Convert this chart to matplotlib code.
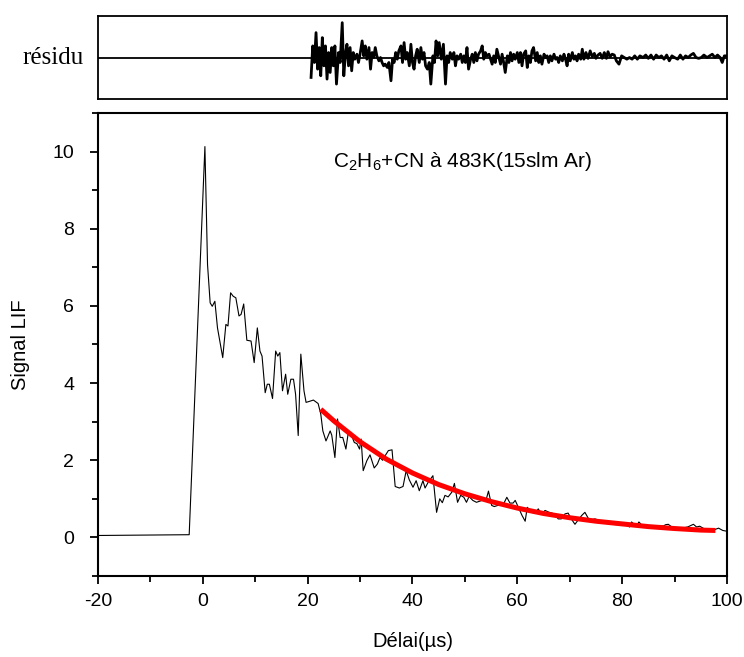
import matplotlib
matplotlib.use('Agg')
import matplotlib.pyplot as plt
from matplotlib.ticker import MultipleLocator

plt.rcParams['font.family'] = ['Liberation Sans', 'DejaVu Sans']
plt.rcParams['mathtext.fontset'] = 'custom'
plt.rcParams['mathtext.rm'] = 'Liberation Sans'
plt.rcParams['mathtext.default'] = 'regular'
plt.rcParams['axes.unicode_minus'] = False

# LIF signal
t_main = [-20, -2.6, 0.4, 0.9, 1.4, 1.8, 2.3, 2.8, 3.8, 4.4, 4.8, 5.3, 5.8, 6.3, 6.9, 7.3,
          7.8, 8.4, 9.2, 9.8, 10.4, 10.9, 11.3, 11.9, 12.3, 12.7, 13.3, 13.9, 14.3, 14.7,
          15.2, 15.8, 16.2, 16.8, 17.3, 17.7, 18.2, 18.7, 19.3, 19.7, 20.2, 21.1, 22.0,
          22.5, 22.9, 23.5, 24.3, 24.6, 25.2, 25.7, 26.2, 26.7, 27.3, 27.8, 28.3, 28.9,
          29.4, 29.9, 30.2, 30.6, 31.3, 31.9, 32.7, 33.3, 33.8, 34.3, 34.8, 35.4, 36.1,
          36.7, 37.5, 38.2, 38.8, 39.4, 40.1, 40.7, 41.3, 42.0, 42.4, 43.0, 43.9, 44.6,
          45.2, 45.7, 46.2, 46.8, 47.5, 48.0, 48.6, 49.2, 49.8, 50.3, 50.8, 51.5, 52.2,
          53.3, 54.0, 54.5, 55.1, 55.6, 56.3, 57.0, 57.5, 58.0, 58.6, 59.2, 59.6, 60.2,
          60.9, 61.5, 61.9, 62.8, 63.4, 64.0, 64.6, 65.3, 65.9, 66.6, 67.2, 67.8, 68.4,
          69.1, 69.7, 70.3, 71.0, 71.6, 72.3, 72.9, 73.6, 74.2, 74.8, 75.5, 76.2, 76.8,
          77.5, 78.1, 78.8, 79.5, 80.3, 81.0, 81.4, 81.8, 82.3, 82.7, 83.2, 84.1, 84.9,
          85.8, 86.7, 87.3, 87.8, 88.3, 88.8, 89.5, 90.4, 91.6, 92.5, 93.6, 94.2, 94.8,
          95.7, 96.7, 97.6, 98.4, 99.2, 100.0]
v_main = [0.05, 0.07, 10.13, 7.07, 6.08, 5.99, 6.12, 5.43, 4.66, 5.52, 5.48, 6.34, 6.25, 6.21,
          5.74, 5.78, 6.05, 5.11, 5.09, 4.53, 5.43, 4.83, 4.70, 3.75, 3.97, 3.97, 3.60, 4.83,
          4.70, 4.79, 3.80, 4.23, 3.71, 4.10, 4.10, 3.71, 2.64, 4.75, 3.80, 3.50, 3.52, 3.56,
          3.47, 3.20, 2.76, 2.50, 2.76, 2.65, 2.07, 3.07, 2.59, 2.59, 2.29, 2.76, 2.67, 2.46,
          2.43, 2.29, 2.55, 1.73, 1.99, 2.14, 1.80, 1.90, 2.07, 2.00, 2.12, 2.25, 2.27, 1.32,
          1.28, 1.32, 1.73, 1.49, 1.30, 1.47, 1.21, 1.47, 1.28, 1.43, 1.60, 0.65, 1.00, 0.90,
          1.09, 1.05, 1.17, 1.40, 0.91, 1.09, 1.04, 0.91, 1.06, 0.96, 0.91, 0.96, 0.95, 1.20,
          0.83, 0.80, 0.83, 0.83, 0.90, 1.04, 0.89, 0.89, 0.96, 0.78, 0.57, 0.42, 0.78, 0.65,
          0.62, 0.74, 0.61, 0.70, 0.66, 0.63, 0.60, 0.48, 0.48, 0.61, 0.63, 0.48, 0.34, 0.45,
          0.57, 0.65, 0.48, 0.46, 0.48, 0.45, 0.42, 0.37, 0.35, 0.37, 0.33, 0.34, 0.35, 0.32,
          0.27, 0.40, 0.34, 0.29, 0.40, 0.27, 0.31, 0.29, 0.27, 0.31, 0.29, 0.33, 0.34, 0.27,
          0.22, 0.25, 0.27, 0.34, 0.27, 0.29, 0.22, 0.20, 0.20, 0.24, 0.18, 0.16]

# fitted decay (red)
t_fit = [22.5, 25, 30, 35, 40, 45, 50, 55, 60, 65, 70, 75, 80, 85, 90, 95, 97.8]
v_fit = [3.32, 3.02, 2.48, 2.03, 1.67, 1.37, 1.13, 0.93, 0.76, 0.62, 0.51, 0.42, 0.35,
         0.28, 0.23, 0.19, 0.18]

# residuals (arbitrary units), 13 per row
t_res = [20.65, 20.97, 21.3, 21.6, 21.9, 22.2, 22.5, 22.8, 23.1, 23.4, 23.7, 24.0, 24.3,
         24.6, 24.9, 25.2, 25.5, 25.9, 26.2, 26.6, 26.9, 27.2, 27.5, 27.8, 28.1, 28.4,
         28.7, 29.0, 29.4, 29.7, 30.0, 30.4, 30.7, 31.0, 31.3, 31.7, 32.0, 32.3, 32.6,
         32.9, 33.2, 33.6, 33.9, 34.2, 34.5, 34.8, 35.2, 35.5, 35.9, 36.2, 36.5, 36.8,
         37.1, 37.4, 37.8, 38.1, 38.4, 38.7, 39.0, 39.4, 39.7, 40.0, 40.3, 40.6, 40.9,
         41.3, 41.6, 41.9, 42.2, 42.5, 42.85, 43.2, 43.5, 43.9, 44.2, 44.5, 44.8, 45.1,
         45.5, 45.9, 46.3, 46.6, 46.9, 47.2, 47.6, 47.9, 48.2, 48.5, 48.8, 49.2, 49.5,
         49.8, 50.1, 50.4, 50.7, 51.1, 51.4, 51.7, 52.0, 52.3, 52.6, 53.0, 53.3, 53.6,
         53.9, 54.2, 54.6, 54.9, 55.2, 55.5, 55.8, 56.1, 56.5, 56.8, 57.1, 57.4, 57.7,
         58.1, 58.4, 58.7, 59.0, 59.3, 59.6, 60.0, 60.3, 60.6, 60.9, 61.2, 61.6, 61.9,
         62.2, 62.5, 62.8, 63.1, 63.5, 63.8, 64.1, 64.4, 64.7, 65.1, 65.4, 65.7, 66.0,
         66.3, 66.6, 67.0, 67.3, 67.6, 67.9, 68.2, 68.6, 68.9, 69.2, 69.5, 69.8, 70.1,
         70.5, 70.8, 71.1, 71.4, 71.7, 72.1, 72.4, 72.7, 73.1, 73.5, 73.9, 74.3, 74.7,
         75.0, 75.4, 75.8, 76.2, 76.6, 77.0, 77.3, 77.7, 78.1, 78.5, 78.9, 79.4, 79.9,
         80.4, 80.9, 81.4, 81.9, 82.4, 82.9, 83.4, 84.0, 84.5, 85.0, 85.5, 86.0, 86.5,
         87.0, 87.5, 88.0, 88.5, 89.0, 89.5, 90.0, 90.6, 91.1, 91.6, 92.1, 92.6, 93.1,
         93.6, 94.1, 94.6, 95.1, 95.6, 96.2, 96.7, 97.2, 97.7, 98.2, 98.7, 99.1, 99.5,
         99.8]
r_res = [-0.48, 0.28, -0.12, 0.60, -0.28, 0.24, -0.44, 0.48, -0.20, 0.28, -0.52, 0.12, -0.36,
         0.24, -0.20, 0.28, -0.64, 0.12, -0.12, 0.84, -0.44, 0.08, 0.32, -0.20, 0.24, -0.32,
         0.12, -0.04, 0.08, -0.12, 0.08, 0.40, 0.04, 0.28, -0.04, 0.24, -0.28, 0.12, 0.00,
         0.24, 0.04, -0.08, 0.00, -0.12, -0.20, -0.16, -0.24, -0.12, -0.56, -0.04, -0.12, 0.12,
         -0.04, 0.16, 0.28, -0.12, 0.36, -0.04, 0.12, -0.20, 0.32, -0.12, -0.28, 0.04, 0.20,
         -0.12, 0.24, -0.04, 0.12, -0.20, -0.28, -0.12, -0.64, 0.04, -0.12, 0.40, 0.04, 0.36,
         -0.04, 0.32, -0.64, 0.04, -0.12, 0.12, -0.04, 0.12, -0.20, 0.04, -0.04, 0.08, -0.12,
         0.04, -0.12, 0.24, -0.28, -0.04, 0.08, -0.12, 0.12, -0.08, 0.08, 0.16, 0.28, -0.04,
         0.12, 0.04, 0.08, -0.04, -0.16, 0.04, -0.12, 0.20, 0.00, -0.16, 0.08, -0.12, -0.36,
         0.04, -0.12, 0.12, -0.08, 0.08, -0.04, 0.12, -0.12, 0.12, -0.20, 0.08, 0.16, -0.24,
         0.04, -0.12, 0.16, 0.24, -0.08, 0.12, -0.12, 0.04, -0.16, 0.08, 0.00, 0.04, -0.12,
         0.04, -0.08, 0.08, -0.04, 0.00, -0.12, 0.04, -0.08, 0.08, -0.04, -0.20, 0.08, -0.08,
         0.12, -0.04, 0.04, -0.08, 0.08, -0.04, 0.20, -0.04, 0.12, -0.02, 0.16, 0.02, 0.10,
         -0.02, 0.06, 0.10, -0.02, 0.12, -0.02, 0.14, 0.02, 0.08, 0.06, -0.08, -0.16, 0.04,
         0.00, -0.04, 0.00, -0.04, 0.04, -0.04, 0.04, 0.00, 0.06, -0.02, 0.06, -0.04, 0.06,
         0.00, 0.04, -0.04, 0.06, -0.08, 0.04, 0.00, -0.04, 0.06, -0.04, 0.04, 0.00, 0.06,
         0.10, 0.00, -0.02, 0.00, 0.06, 0.00, 0.04, 0.08, 0.00, 0.06, 0.00, -0.12, 0.04,
         0.04]

fig = plt.figure(figsize=(7.44, 6.57), dpi=100)
ax_res = fig.add_axes([0.1317, 0.8493, 0.8454, 0.1263])
ax = fig.add_axes([0.1317, 0.1233, 0.8454, 0.7047])

# residual panel
ax_res.axhline(0, color='black', lw=1.3)
ax_res.plot(t_res, r_res, color='black', lw=2.0)
ax_res.set_xlim(-20, 100)
ax_res.set_ylim(-1, 1)
ax_res.set_xticks([])
ax_res.set_yticks([])
for s in ax_res.spines.values():
    s.set_linewidth(1.3)
ax_res.text(-0.022, 0.5, 'résidu', transform=ax_res.transAxes, ha='right', va='center',
            fontsize=18, family=['Liberation Serif', 'DejaVu Serif'])

# main panel
ax.plot(t_main, v_main, color='black', lw=0.8)
ax.plot(t_fit, v_fit, color='#ff0000', lw=3.6, solid_capstyle='butt')
ax.set_xlim(-20, 100)
ax.set_ylim(-1, 11)
ax.xaxis.set_major_locator(MultipleLocator(20))
ax.xaxis.set_minor_locator(MultipleLocator(10))
ax.yaxis.set_major_locator(MultipleLocator(2))
ax.yaxis.set_minor_locator(MultipleLocator(1))
ax.tick_params(which='both', direction='out', width=1.3, labelsize=14)
ax.tick_params(which='major', length=6)
ax.tick_params(which='minor', length=4)
ax.tick_params(axis='x', pad=6)
ax.tick_params(axis='y', pad=11)
for s in ax.spines.values():
    s.set_linewidth(1.5)

ax.text(24.8, 9.75, 'C$_2$H$_6$+CN à 483K(15slm Ar)', fontsize=15, ha='left', va='center')
ax.set_xlabel('Délai(µs)', fontsize=14.5, labelpad=16)
ax.set_ylabel('Signal LIF', fontsize=14.5, labelpad=16)

fig.savefig('out.png', dpi=100)
